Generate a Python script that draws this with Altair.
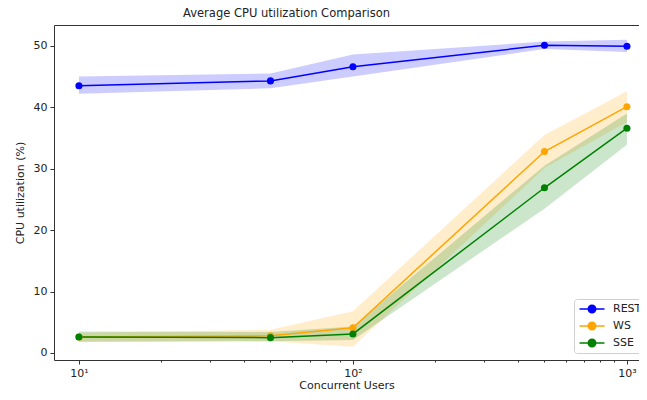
import altair as alt
import pandas as pd

users = [10, 50, 100, 500, 1000]
series_names = ["REST", "WS", "SSE"]
colors = ["#0000ff", "#ffa500", "#008000"]

rest_mean = [43.5, 44.3, 46.6, 50.1, 49.95]
rest_lo = [42.2, 43.1, 45.0, 49.5, 49.0]
rest_hi = [45.0, 45.5, 48.6, 50.7, 51.0]

ws_mean = [2.6, 2.8, 4.1, 32.8, 40.1]
ws_lo = [1.9, 1.9, 1.0, 30.1, 37.6]
ws_hi = [3.3, 3.8, 6.8, 35.5, 42.6]

sse_mean = [2.6, 2.5, 3.1, 26.9, 36.6]
sse_lo = [1.8, 1.9, 2.1, 23.5, 33.9]
sse_hi = [3.5, 3.4, 4.3, 30.5, 39.0]

x_major = [10, 100, 1000]
x_minor = [20, 30, 40, 50, 60, 70, 80, 90, 200, 300, 400, 500, 600, 700, 800, 900]
y_ticks = [0, 10, 20, 30, 40, 50]

rows = []
for name, m, lo, hi in [("REST", rest_mean, rest_lo, rest_hi),
                        ("WS", ws_mean, ws_lo, ws_hi),
                        ("SSE", sse_mean, sse_lo, sse_hi)]:
    for u, a, b, c in zip(users, m, lo, hi):
        rows.append({"users": u, "series": name, "mean": a, "lo": b, "hi": c})
df = pd.DataFrame(rows)
df_minor = pd.DataFrame({"v": x_minor})

FONT = "DejaVu Sans"
xscale = alt.Scale(type="log", domain=[10 ** 0.909, 10 ** 3.044], nice=False)
yscale = alt.Scale(domain=[-1.14, 53.4], nice=False)
cscale = alt.Scale(domain=series_names, range=colors)

major_axis = alt.Axis(values=x_major, grid=False, title="Concurrent Users",
                      labelExpr="datum.value == 10 ? '10¹' : datum.value == 100 ? '10²' : '10³'",
                      tickSize=4, labelPadding=3, titlePadding=1, orient="bottom")
minor_axis = alt.Axis(values=x_minor, grid=False, labels=False, title=None, tickSize=2,
                      orient="bottom", domain=False)
top_axis = alt.Axis(grid=False, labels=False, ticks=False, title=None, orient="top")
y_axis = alt.Axis(values=y_ticks, grid=False, title="CPU utilization (%)", tickSize=4,
                  labelPadding=3, titlePadding=8)

base = alt.Chart(df)
x_with_axis = alt.X("users:Q", scale=xscale, axis=major_axis)
x_plain = alt.X("users:Q", scale=xscale, axis=None)

bands = []
for i, (name, col) in enumerate(zip(series_names, colors)):
    bands.append(
        base.transform_filter(alt.datum.series == name)
        .mark_area(opacity=0.2, color=col)
        .encode(
            x=x_with_axis if i == 0 else x_plain,
            y=alt.Y("lo:Q", scale=yscale, axis=y_axis),
            y2="hi:Q",
        )
    )

sym = "M-2,0L2,0M-0.6,0A0.6,0.6,0,1,1,0.6,0A0.6,0.6,0,1,1,-0.6,0Z"
legend = alt.Legend(orient="none", legendX=520, legendY=274, title=None,
                    symbolType=sym, symbolSize=156, symbolStrokeWidth=1.5, symbolOpacity=1,
                    labelFont=FONT, labelFontSize=11, labelColor="#222",
                    strokeColor="#d0d0d0", fillColor="white", padding=3,
                    cornerRadius=3, rowPadding=3, labelOffset=14, symbolOffset=8)

line = base.mark_line(strokeWidth=1.5).encode(
    x=x_plain,
    y=alt.Y("mean:Q", scale=yscale),
    color=alt.Color("series:N", scale=cscale, legend=legend),
)
pts = base.mark_point(filled=True, size=50, opacity=1).encode(
    x=x_plain,
    y=alt.Y("mean:Q", scale=yscale),
    color=alt.Color("series:N", scale=cscale, legend=legend),
)

minor = alt.Chart(df_minor).mark_point(opacity=0).encode(
    x=alt.X("v:Q", scale=xscale, axis=minor_axis),
)
topframe = alt.Chart(df_minor).mark_point(opacity=0).encode(
    x=alt.X("v:Q", scale=xscale, axis=top_axis),
)

chart = alt.layer(*bands, line, pts, minor, topframe).resolve_axis(x="independent").properties(
    width=585, height=335,
    autosize=alt.AutoSizeParams(type="none"),
    padding={"left": 46, "top": 17, "right": 0, "bottom": 32},
    title=alt.TitleParams("Average CPU utilization Comparison", font=FONT, fontSize=11.5,
                          fontWeight="normal", anchor="middle", frame="group", dx=-60,
                          offset=6, color="#222"),
).configure_axis(
    labelFont=FONT, titleFont=FONT, labelFontSize=11, titleFontSize=11,
    labelColor="#222", titleColor="#222", titleFontWeight="normal",
    domainColor="#333", tickColor="#333",
).configure_view(stroke=None)

chart.save("out.html", embed_options={"renderer": "svg", "actions": False})
